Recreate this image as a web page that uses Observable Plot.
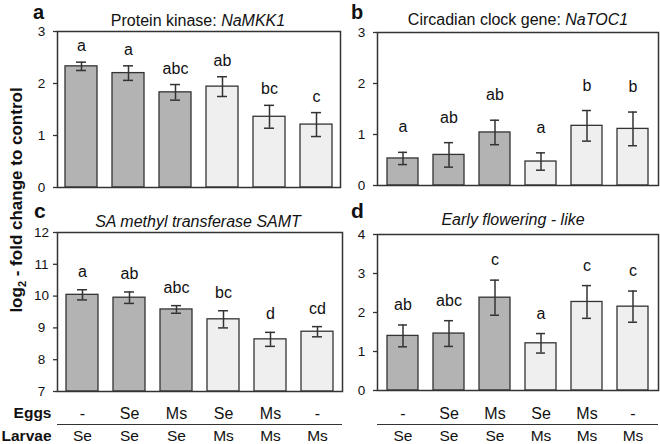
<!DOCTYPE html>
<html>
<head>
<meta charset="utf-8">
<script src="https://cdn.jsdelivr.net/npm/d3@7"></script>
<script src="https://cdn.jsdelivr.net/npm/@observablehq/plot@0.6"></script>
<style>
  html, body { margin: 0; padding: 0; background: #fff; }
  #fig { position: relative; width: 660px; height: 444px; background: #fff; font-family: "Liberation Sans", Arial, sans-serif; overflow: hidden; }
  #fig > div { position: absolute; }
  #overlay { position: absolute; left: 0; top: 0; pointer-events: none; }
</style>
</head>
<body>
<div id="fig"></div>
<script>
// ---- data ----
const eggs   = ["-", "Se", "Ms", "Se", "Ms", "-"];
const larvae = ["Se", "Se", "Se", "Ms", "Ms", "Ms"];

const mkkMean    = [2.33, 2.20, 1.83, 1.94, 1.36, 1.21];
const mkkErr     = [0.08, 0.14, 0.15, 0.19, 0.22, 0.23];
const mkkLetters = ["a", "a", "abc", "ab", "bc", "c"];

const tocMean    = [0.53, 0.60, 1.04, 0.47, 1.17, 1.11];
const tocErr     = [0.12, 0.24, 0.24, 0.17, 0.30, 0.33];
const tocLetters = ["a", "ab", "ab", "a", "b", "b"];

const samtMean    = [10.04, 9.95, 9.58, 9.27, 8.64, 8.88];
const samtErr     = [0.16, 0.18, 0.12, 0.27, 0.22, 0.16];
const samtLetters = ["a", "ab", "abc", "bc", "d", "cd"];

const eflMean    = [1.40, 1.46, 2.38, 1.21, 2.27, 2.15];
const eflErr     = [0.28, 0.33, 0.45, 0.25, 0.42, 0.40];
const eflLetters = ["ab", "abc", "c", "a", "c", "c"];

const ticksA = [0, 1, 2, 3];
const ticksB = [0, 1, 2, 3];
const ticksC = [7, 8, 9, 10, 11, 12];
const ticksD = [0, 1, 2, 3, 4];

const idx = eggs.map((_, i) => String(i));

function rowsOf(mean, err, letters) {
  return mean.map((v, i) => ({i: String(i), v, e: err[i], letter: letters[i], egg: eggs[i], larva: larvae[i]}));
}

const fig = document.getElementById("fig");
const ink = "#333";

function panel(o) {
  const rows = rowsOf(o.mean, o.err, o.letters);
  const ymin = o.ticks[0], ymax = o.ticks[o.ticks.length - 1];
  const marks = [
    Plot.barY(rows, {x: "i", y1: () => ymin, y2: "v", fill: "larva", stroke: ink, strokeWidth: 1.3}),
    Plot.ruleX(rows, {x: "i", y1: d => d.v - d.e, y2: d => d.v + d.e, stroke: ink, strokeWidth: 1.5}),
    Plot.tickY(rows, {x: "i", y: d => d.v + d.e, insetLeft: 11, insetRight: 11, stroke: ink, strokeWidth: 1.5}),
    Plot.tickY(rows, {x: "i", y: d => d.v - d.e, insetLeft: 11, insetRight: 11, stroke: ink, strokeWidth: 1.5}),
    Plot.text(rows, {x: "i", y: d => d.v + d.e, text: "letter", dy: -o.letterOff, lineAnchor: "middle", fontSize: 16, fill: "#111"}),
    Plot.frame({stroke: ink, strokeWidth: 1.5}),
    Plot.axisY({ticks: o.ticks, label: null, tickSize: 4, tickPadding: 12, textAnchor: "middle", fontSize: 13.5, stroke: ink, strokeWidth: 1.3, tickFormat: d => String(d)})
  ];
  if (o.bottom) {
    marks.push(
      Plot.text(rows, {x: "i", text: "egg", frameAnchor: "bottom", dy: o.bottom[0], lineAnchor: "middle", fontSize: 16, fill: "#111"}),
      Plot.ruleY([ymin], {dy: o.bottom[1], stroke: ink, strokeWidth: 1.2}),
      Plot.text(rows, {x: "i", text: "larva", frameAnchor: "bottom", dy: o.bottom[2], lineAnchor: "middle", fontSize: 15.5, fill: "#111"})
    );
    if (o.rowLabels) {
      marks.push(
        Plot.text(["Eggs"], {frameAnchor: "bottom-left", dx: -6, dy: o.bottom[0], textAnchor: "end", lineAnchor: "middle", fontWeight: "bold", fontSize: 15.5, fill: "#111"}),
        Plot.text(["Larvae"], {frameAnchor: "bottom-left", dx: -6, dy: o.bottom[2], textAnchor: "end", lineAnchor: "middle", fontWeight: "bold", fontSize: 15.5, fill: "#111"})
      );
    }
  }
  const svg = Plot.plot({
    width: o.width, height: o.height,
    marginLeft: o.ml, marginRight: o.mr, marginTop: o.mt, marginBottom: o.mb,
    style: {fontFamily: '"Liberation Sans", Arial, sans-serif', background: "transparent", overflow: "visible", color: "#111"},
    x: {domain: idx, paddingInner: 0.32, paddingOuter: 0.17, axis: null},
    y: {domain: [ymin, ymax], axis: null},
    color: {domain: ["Se", "Ms"], range: ["#b3b3b3", "#efefef"]},
    marks
  });
  const wrap = document.createElement("div");
  wrap.style.left = o.left + "px";
  wrap.style.top = o.top + "px";
  wrap.appendChild(svg);
  fig.appendChild(wrap);
}

panel({mean: mkkMean, err: mkkErr, letters: mkkLetters, ticks: ticksA, left: 0, top: 0, width: 342, height: 200, ml: 57, mr: 2, mt: 31, mb: 13, letterOff: 16});
panel({mean: tocMean, err: tocErr, letters: tocLetters, ticks: ticksB, left: 330, top: 0, width: 330, height: 200, ml: 47, mr: 2, mt: 32, mb: 15, letterOff: 25});
panel({mean: samtMean, err: samtErr, letters: samtLetters, ticks: ticksC, left: 0, top: 200, width: 344, height: 244, ml: 57, mr: 2, mt: 32, mb: 53, letterOff: 18, bottom: [22, 33, 45], rowLabels: true});
panel({mean: eflMean, err: eflErr, letters: eflLetters, ticks: ticksD, left: 330, top: 200, width: 330, height: 244, ml: 47, mr: 2, mt: 34, mb: 54, letterOff: 20, bottom: [23, 34, 46]});

// ---- titles, panel letters, y label ----
const NS = "http://www.w3.org/2000/svg";
const ov = document.createElementNS(NS, "svg");
ov.setAttribute("id", "overlay");
ov.setAttribute("width", 660);
ov.setAttribute("height", 444);
ov.setAttribute("font-family", '"Liberation Sans", Arial, sans-serif');
ov.innerHTML = `
  <g fill="#111">
    <text x="33" y="19" font-size="20" font-weight="bold">a</text>
    <text x="351" y="19" font-size="20" font-weight="bold">b</text>
    <text x="34" y="218" font-size="21" font-weight="bold">c</text>
    <text x="351" y="218" font-size="21" font-weight="bold">d</text>
    <text x="198" y="26" font-size="16" text-anchor="middle">Protein kinase: <tspan font-style="italic">NaMKK1</tspan></text>
    <text x="518" y="25" font-size="16" text-anchor="middle">Circadian clock gene: <tspan font-style="italic">NaTOC1</tspan></text>
    <text x="198" y="227" font-size="16" text-anchor="middle" font-style="italic">SA methyl transferase SAMT</text>
    <text x="513" y="225" font-size="16" text-anchor="middle" font-style="italic">Early flowering - like</text>
    <text transform="translate(22,200) rotate(-90)" font-size="17" font-weight="bold" text-anchor="middle">log<tspan font-size="11" dy="4">2</tspan><tspan dy="-4"> - fold change to control</tspan></text>
  </g>`;
fig.appendChild(ov);
</script>
</body>
</html>
